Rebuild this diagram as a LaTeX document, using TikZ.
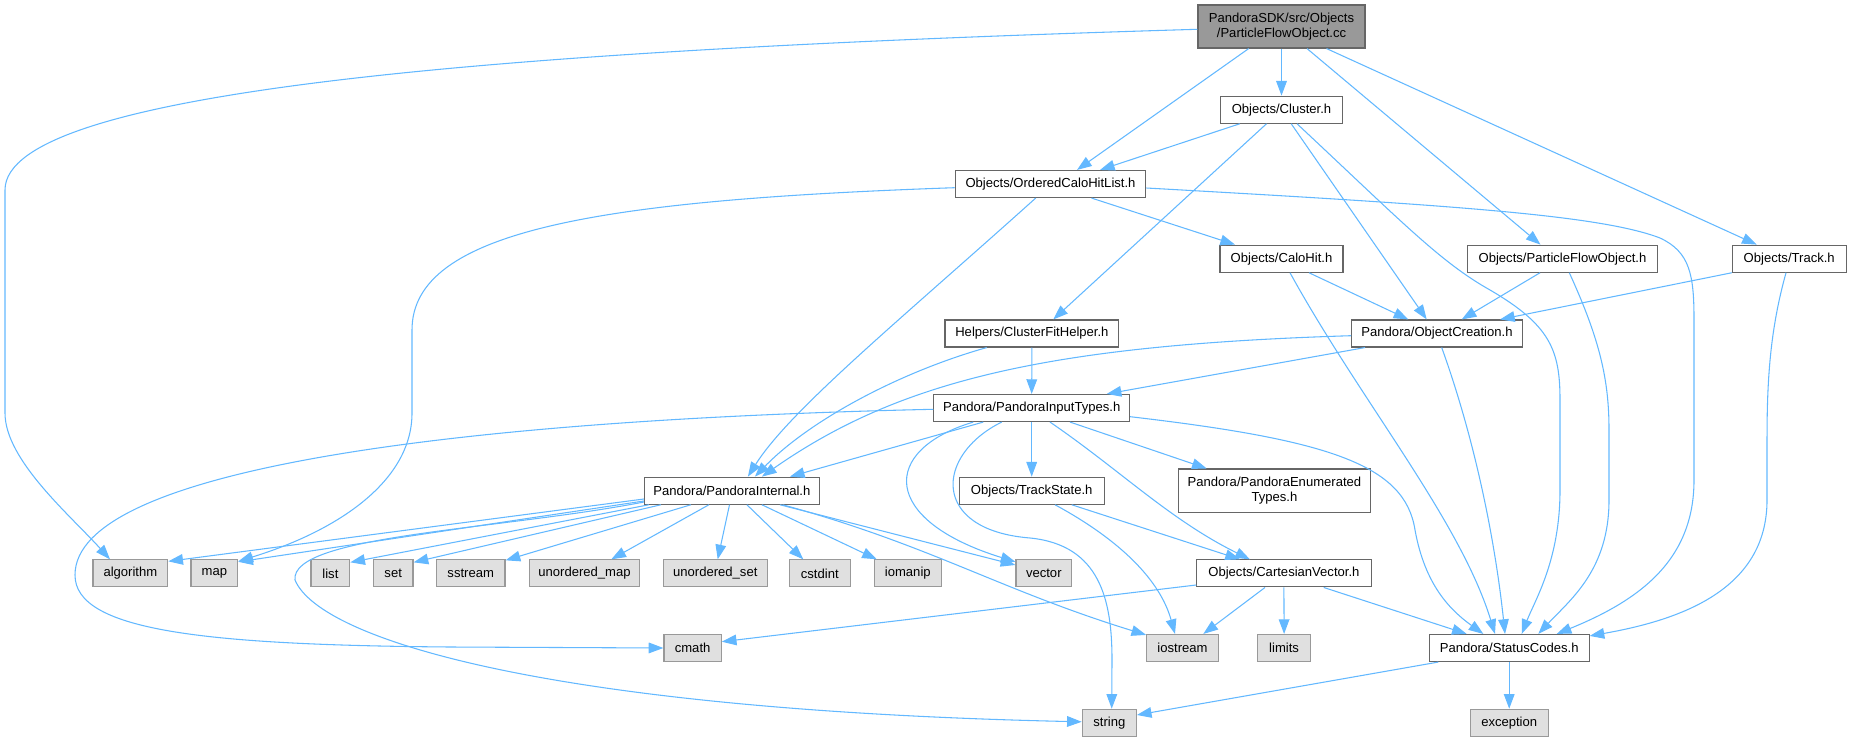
\documentclass[tikz,border=0pt]{standalone}
\usepackage{fontspec}
\setmainfont{Liberation Sans}
\usetikzlibrary{arrows.meta,calc}
\definecolor{ecol}{HTML}{63B8FF}
\definecolor{bcol}{HTML}{666666}
\definecolor{gcol}{HTML}{999999}
\definecolor{gfill}{HTML}{E0E0E0}
\tikzset{
  nbase/.style 2 args={rectangle, inner sep=0pt, minimum width={#1*0.75pt}, minimum height={#2*0.75pt},
    font=\fontsize{9.8}{11.8}\selectfont, align=center, line width=0.85pt},
  wbox/.style 2 args={nbase={#1}{#2}, draw=bcol, fill=white},
  gbox/.style 2 args={nbase={#1}{#2}, draw=gcol, fill=gfill},
  rbox/.style 2 args={nbase={#1}{#2}, draw=bcol, fill=gcol},
  dep/.style={draw=ecol, line width=0.8pt, -{Triangle[length=11pt,width=8pt]}},
}
\begin{document}
\begin{tikzpicture}[x=0.75pt,y=-0.75pt]
\useasboundingbox (0,0) rectangle (1851,741);
% nodes
\node[rbox={167}{43}] (root) at (1281.5,26.5) {PandoraSDK/src/Objects\\/ParticleFlowObject.cc};
\node[wbox={122}{27}] (cluster) at (1281.5,109.7) {Objects/Cluster.h};
\node[wbox={190.4}{27}] (ochl) at (1050.5,184) {Objects/OrderedCaloHitList.h};
\node[wbox={123}{27}] (calohit) at (1281.5,258.7) {Objects/CaloHit.h};
\node[wbox={190.4}{27}] (pfoh) at (1562.5,258.7) {Objects/ParticleFlowObject.h};
\node[wbox={113.7}{27}] (track) at (1789.2,258.7) {Objects/Track.h};
\node[wbox={173.7}{27}] (cfh) at (1031.9,333.5) {Helpers/ClusterFitHelper.h};
\node[wbox={170.6}{27}] (objc) at (1437,333.5) {Pandora/ObjectCreation.h};
\node[wbox={195.8}{27}] (pit) at (1031.7,408) {Pandora/PandoraInputTypes.h};
\node[wbox={144.7}{27}] (trackstate) at (1031.7,490.7) {Objects/TrackState.h};
\node[wbox={191.3}{43.3}] (penum) at (1274.4,490.7) {Pandora/PandoraEnumerated\\Types.h};
\node[wbox={174.8}{27}] (pint) at (731.9,490.7) {Pandora/PandoraInternal.h};
\node[gbox={55.7}{27}] (vector) at (1043.8,573.4) {vector};
\node[wbox={174.3}{27}] (cartvec) at (1283.9,573.4) {Objects/CartesianVector.h};
\node[gbox={71.6}{27}] (iostream) at (1182.5,648) {iostream};
\node[gbox={53.2}{27}] (limits) at (1284.1,648) {limits};
\node[wbox={159.7}{27}] (status) at (1509.2,648) {Pandora/StatusCodes.h};
\node[gbox={54}{27}] (string) at (1109.3,722.8) {string};
\node[gbox={77.7}{27}] (exception) at (1509.2,722.8) {exception};
\node[gbox={74.7}{27}] (algorithm) at (130.4,573.4) {algorithm};
\node[gbox={46.7}{27}] (map) at (214.4,573.4) {map};
\node[gbox={38.7}{27}] (list) at (330.4,573.4) {list};
\node[gbox={39.7}{27}] (set) at (393.2,573.4) {set};
\node[gbox={68.7}{27}] (sstream) at (470.7,573.4) {sstream};
\node[gbox={110.5}{27}] (umap) at (584.5,573.4) {unordered\_map};
\node[gbox={104}{27}] (uset) at (715.3,573.4) {unordered\_set};
\node[gbox={61}{27}] (cstdint) at (819.8,573.4) {cstdint};
\node[gbox={67}{27}] (iomanip) at (907.8,573.4) {iomanip};
\node[gbox={57.3}{27}] (cmath) at (692.6,648) {cmath};
% edges from root
\draw[dep] ($(root.west)+(0,2.8)$) .. controls (500,50) and (5,90) .. (5,190) -- (5,413) .. controls (5,460) and (70,515) .. ($(algorithm.north)+(-20.4,0)$);
\draw[dep] ($(root.south)+(-32.8,0)$) -- ($(ochl.north)+(26.5,0)$);
\draw[dep] (root.south) -- (cluster.north);
\draw[dep] ($(root.south)+(25.5,0)$) -- ($(pfoh.north)+(-22,0)$);
\draw[dep] ($(root.south)+(45,0)$) -- ($(track.north)+(-32.5,0)$);
% cluster
\draw[dep] ($(cluster.south)+(-41.7,0)$) -- ($(ochl.north)+(49.5,0)$);
\draw[dep] ($(cluster.south)+(-15,0)$) -- ($(cfh.north)+(21.4,0)$);
\draw[dep] ($(cluster.south)+(9.7,0)$) -- ($(objc.north)+(-10.3,0)$);
\draw[dep] ($(cluster.south)+(15.5,0)$) .. controls (1400,220) and (1440,262) .. (1490,290) .. controls (1550,325) and (1560,350) .. (1560,400) -- (1560,490) .. controls (1560,560) and (1535,600) .. ($(status.north)+(12.5,0)$);
% ordered calo hit list
\draw[dep] ($(ochl.west)+(0,3.7)$) .. controls (600,200) and (412,230) .. (412,330) -- (412,413) .. controls (412,480) and (340,530) .. ($(map.north east)+(0,2)$);
\draw[dep] ($(ochl.south)+(-14.8,0)$) .. controls (900,320) and (790,410) .. ($(pint.north)+(16,0)$);
\draw[dep] ($(ochl.south)+(41,0)$) -- ($(calohit.north)+(-46.5,0)$);
\draw[dep] ($(ochl.east)+(0,4)$) .. controls (1450,205) and (1600,215) .. (1660,238) .. controls (1690,252) and (1694,275) .. (1694,320) -- (1694,480) .. controls (1694,560) and (1640,600) .. ($(status.north)+(47.5,0)$);
% calo hit
\draw[dep] ($(calohit.south)+(27.5,0)$) -- ($(objc.north)+(-28.7,0)$);
\draw[dep] ($(calohit.south)+(8.5,0)$) .. controls (1360,400) and (1460,520) .. ($(status.north)+(-14.2,0)$);
% particle flow object h
\draw[dep] ($(pfoh.south)+(-22.5,0)$) -- ($(objc.north)+(24.7,0)$);
\draw[dep] ($(pfoh.south)+(6.8,0)$) .. controls (1600,340) and (1609,380) .. (1609,430) -- (1609,500) .. controls (1609,570) and (1570,600) .. ($(status.north)+(29.1,0)$);
% track
\draw[dep] (track.south west) -- ($(objc.north)+(63,0)$);
\draw[dep] ($(track.south)+(-3.2,0)$) .. controls (1770,330) and (1767,380) .. (1767,440) -- (1767,500) .. controls (1767,590) and (1680,620) .. ($(status.north east)+(0,2)$);
% cluster fit helper
\draw[dep] (cfh.south) -- (pit.north);
\draw[dep] ($(cfh.south)+(-45.2,0)$) .. controls (900,372) and (810,420) .. ($(pint.north)+(23,0)$);
% object creation
\draw[dep] ($(objc.south)+(-72,0)$) -- ($(pit.north)+(75,0)$);
\draw[dep] ($(objc.west)+(0,2.2)$) .. controls (1050,345) and (900,380) .. ($(pint.north)+(30,0)$);
\draw[dep] ($(objc.south)+(4.7,0)$) .. controls (1475,440) and (1495,540) .. ($(status.north)+(-4.2,0)$);
% pandora input types
\draw[dep] ($(pit.west)+(0,1.3)$) .. controls (450,420) and (75,470) .. (75,575) .. controls (75,630) and (200,645) .. (450,647) -- (cmath.west);
\draw[dep] ($(pit.south)+(-48.4,0)$) -- ($(pint.north)+(58,0)$);
\draw[dep] (pit.south) -- (trackstate.north);
\draw[dep] ($(pit.south)+(38.3,0)$) -- ($(penum.north)+(-67.7,0)$);
\draw[dep] ($(pit.south)+(18.3,0)$) .. controls (1120,470) and (1170,520) .. ($(cartvec.north)+(-34,0)$);
\draw[dep] ($(pit.east)+(0,8.7)$) .. controls (1330,440) and (1405,465) .. (1415,530) .. controls (1425,585) and (1450,610) .. ($(status.north)+(-25.9,0)$);
\draw[dep] ($(pit.south)+(-58.4,0)$) .. controls (880,450) and (880,520) .. ($(vector.north west)+(0,2.5)$);
\draw[dep] ($(pit.south)+(-30,0)$) .. controls (935,455) and (930,530) .. (1030,538) .. controls (1100,545) and (1112,600) .. (1112,660) -- ($(string.north)+(2.4,0)$);
% pandora internal
\draw[dep] ($(pint.west)+(0,8.3)$) -- ($(algorithm.north east)+(0,2)$);
\draw[dep] ($(pint.west)+(0,10.3)$) -- ($(map.north east)+(0,2.5)$);
\draw[dep] ($(pint.south west)+(5,0)$) -- ($(list.north east)+(0,3)$);
\draw[dep] ($(pint.south west)+(17,0)$) -- ($(set.north east)+(0,3)$);
\draw[dep] ($(pint.south)+(-41,0)$) -- ($(sstream.north east)+(0,1)$);
\draw[dep] ($(pint.south)+(-23,0)$) -- ($(umap.north)+(26.8,0)$);
\draw[dep] ($(pint.south)+(-2.4,0)$) -- ($(uset.north)+(2.4,0)$);
\draw[dep] ($(pint.south)+(15,0)$) -- ($(cstdint.north)+(-16.5,0)$);
\draw[dep] ($(pint.south)+(30,0)$) -- ($(iomanip.north)+(-31,0)$);
\draw[dep] ($(pint.south)+(48,0)$) -- ($(vector.west)+(0,-8.4)$);
\draw[dep] ($(pint.south)+(50.7,0)$) .. controls (930,545) and (1000,590) .. ($(iostream.north west)+(0,1)$);
\draw[dep] ($(pint.west)+(0,11.3)$) .. controls (500,530) and (290,535) .. (295,580) .. controls (320,640) and (550,710) .. ($(string.west)+(0,-1)$);
% cartesian vector
\draw[dep] ($(cartvec.west)+(0,11.6)$) -- ($(cmath.east)+(0,-6.3)$);
\draw[dep] ($(cartvec.south)+(-18.9,0)$) -- ($(iostream.north)+(20.8,0)$);
\draw[dep] (cartvec.south) -- (limits.north);
\draw[dep] ($(cartvec.south)+(39.8,0)$) -- ($(status.north)+(-42.5,0)$);
% track state
\draw[dep] ($(trackstate.south)+(40,0)$) -- ($(cartvec.north)+(-44,0)$);
\draw[dep] ($(trackstate.south)+(23.3,0)$) .. controls (1120,540) and (1160,580) .. ($(iostream.north)+(-7.5,0)$);
% status codes
\draw[dep] ($(status.south)+(-70.9,0)$) -- ($(string.east)+(0,-7.8)$);
\draw[dep] (status.south) -- (exception.north);
\end{tikzpicture}
\end{document}
